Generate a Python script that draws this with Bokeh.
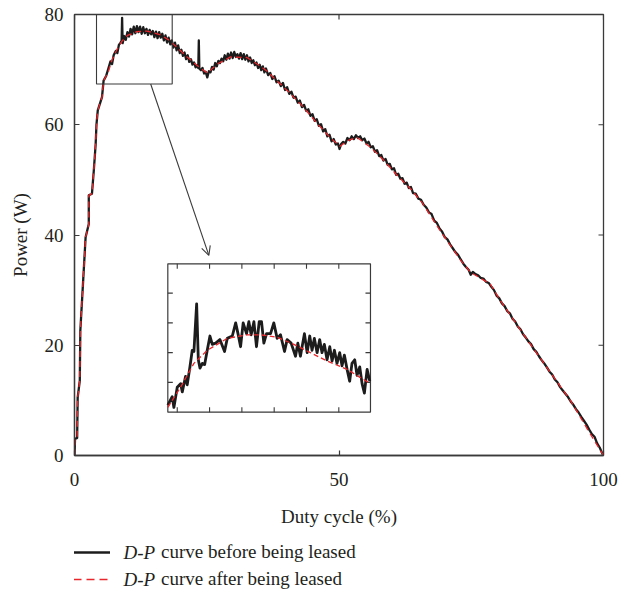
from bokeh.plotting import figure
from bokeh.layouts import column
from bokeh.models import (Range1d, FixedTicker, BoxAnnotation, Arrow,
                          OpenHead, Legend, LegendItem, Label)
from bokeh.embed import file_html
from bokeh.resources import INLINE

# ---------------- data ----------------
rise_duty = [0.0, 0.1, 0.5, 0.6, 1.0, 1.1, 1.6, 2.1, 2.7, 2.7, 3.3, 3.65, 4.0, 4.15, 4.4, 5.2, 5.5, 6.0]
rise_power = [0.0, 3.0, 3.2, 10.5, 13.6, 22.6, 31.1, 39.6, 42.0, 47.2, 47.5, 51.7, 56.5, 60.0, 62.6, 65.0, 68.0, 68.9]

after_duty = [6.2, 7.1, 8.1, 9.0, 10.0, 11.8, 13.7, 16.3, 18.1, 19.4, 21.3, 23.5, 25.1, 27.0, 29.5,
              32.6, 35.2, 36.4, 40.2, 42.7, 45.9, 48.4, 50.2, 51.6, 53.4, 56.0, 58.5, 61.0, 63.5,
              65.7, 68.9, 73.0, 74.9, 75.8, 78.6, 80.5, 83.7, 87.5, 90.6, 93.8, 97.5, 100.0]
after_power = [69.0, 71.8, 73.8, 75.2, 76.2, 76.9, 77.0, 76.3, 75.2, 74.0, 72.3, 70.5, 69.4, 71.0, 72.3,
               72.2, 70.6, 69.7, 66.2, 63.8, 60.2, 57.6, 56.1, 57.1, 57.7, 55.9, 53.5, 50.8, 48.4,
               45.9, 41.1, 35.4, 33.2, 32.7, 31.1, 28.1, 23.6, 18.4, 14.2, 9.9, 3.9, 0.0]

before_duty = [6.4, 6.8, 7.1, 7.4, 7.8, 8.1, 8.4, 8.7, 8.9, 9.0, 9.1, 9.4, 9.7, 10.0, 10.3, 10.6, 10.9,
               11.2, 11.5, 11.8, 12.1, 12.4, 12.7, 13.0, 13.3, 13.6, 13.9, 14.2, 14.5, 14.8, 15.1,
               15.4, 15.7, 16.0, 16.3, 16.6, 16.9, 17.2, 17.5, 17.8, 18.1, 18.4, 18.7, 19.0, 19.3,
               19.6, 19.9, 20.2, 20.5, 20.8, 21.1, 21.4, 21.7, 22.0, 22.3, 22.6, 22.9, 23.2, 23.4,
               23.5, 23.6, 23.9, 24.2, 24.5, 24.8, 25.1, 25.4, 25.7, 26.0, 26.3, 26.6, 26.9, 27.2,
               27.5, 27.8, 28.1, 28.4, 28.7, 29.0, 29.3, 29.6, 29.9, 30.2, 30.5, 30.8, 31.1, 31.4,
               31.7, 32.0, 32.3, 32.6, 32.9, 33.2, 33.5, 33.8, 34.1, 34.4, 34.7, 35.0, 35.3, 35.6,
               35.9, 36.2, 36.6, 37.0, 37.4, 37.8, 38.2, 38.6, 39.0, 39.4, 39.8, 40.2, 40.6, 41.0,
               41.4, 41.8, 42.2, 42.6, 43.0, 43.4, 43.8, 44.2, 44.6, 45.0, 45.4, 45.8, 46.2, 46.6,
               47.0, 47.4, 47.8, 48.2, 48.6, 49.0, 49.4, 49.8, 50.1, 50.4, 50.8, 51.2, 51.6, 52.0,
               52.4, 52.8, 53.2, 53.6, 54.0, 54.4, 54.8, 55.2, 55.6, 56.0, 56.4, 56.8, 57.2, 57.6,
               58.0, 58.4, 58.8, 59.2, 59.6, 60.0, 60.4, 60.8, 61.2, 61.6, 62.0, 62.4, 62.8, 63.2,
               63.6, 64.0, 64.5, 65.0, 65.5, 66.0, 66.5, 67.0, 67.5, 68.0, 68.5, 69.0, 69.5, 70.0,
               70.5, 71.0, 71.5, 72.0, 72.5, 73.0, 73.5, 74.0, 74.5, 74.9, 75.3, 75.8, 76.3, 76.8,
               77.3, 77.8, 78.3, 78.8, 79.3, 79.8, 80.3, 80.8, 81.3, 81.8, 82.3, 82.8, 83.3, 83.8,
               84.3, 84.8, 85.3, 85.8, 86.3, 86.8, 87.3, 87.8, 88.3, 88.8, 89.3, 89.8, 90.3, 90.8,
               91.3, 91.8, 92.3, 92.8, 93.3, 93.8, 94.3, 94.8, 95.3, 95.8, 96.3, 96.8, 97.3, 97.8,
               98.3, 98.8, 99.3, 99.8, 100.0]
before_power = [70.2, 71.5, 71.0, 72.6, 73.4, 73.0, 74.5, 74.9, 75.2, 79.4, 74.8, 76.1, 75.4, 76.8, 76.0,
                77.4, 76.4, 77.8, 76.6, 77.9, 76.8, 77.8, 76.5, 77.7, 76.6, 77.4, 76.3, 77.2, 76.4,
                77.0, 75.9, 76.9, 75.7, 76.8, 75.8, 76.5, 75.3, 76.2, 74.9, 75.8, 74.6, 75.3, 74.0,
                74.9, 73.5, 74.4, 73.0, 73.6, 72.5, 73.1, 71.9, 72.6, 71.4, 71.9, 70.9, 71.3, 70.4,
                70.8, 70.3, 75.3, 70.2, 69.9, 70.3, 69.3, 69.6, 68.6, 69.7, 69.5, 70.5, 70.0, 71.2,
                70.6, 71.6, 71.2, 72.0, 71.5, 72.6, 71.8, 72.9, 72.0, 73.1, 72.1, 73.2, 72.3, 72.8,
                72.0, 73.0, 71.9, 72.8, 71.8, 72.6, 71.5, 72.2, 71.2, 71.7, 70.8, 71.3, 70.3, 70.9,
                69.9, 70.6, 69.5, 70.2, 69.0, 69.4, 68.3, 68.8, 67.7, 68.0, 67.0, 67.6, 66.3, 66.8,
                65.6, 66.0, 64.9, 65.1, 64.0, 64.4, 63.2, 63.6, 62.5, 62.8, 61.6, 61.9, 60.7, 61.0,
                59.8, 60.1, 58.8, 59.2, 57.9, 58.2, 57.0, 57.4, 56.4, 56.6, 55.6, 56.5, 56.9, 56.6,
                57.6, 57.2, 57.9, 57.4, 58.1, 57.6, 57.9, 57.2, 57.5, 56.6, 56.9, 55.9, 56.1, 55.1,
                55.4, 54.3, 54.5, 53.5, 53.8, 52.7, 52.9, 51.9, 52.1, 50.9, 51.1, 50.2, 50.3, 49.3,
                49.5, 48.5, 48.7, 47.6, 47.5, 46.6, 46.4, 45.5, 45.0, 44.1, 43.8, 42.6, 42.2, 41.2,
                40.6, 39.6, 39.2, 38.3, 37.6, 36.9, 36.4, 35.6, 34.8, 34.2, 33.7, 32.8, 33.3, 32.9,
                32.7, 32.2, 32.1, 31.5, 31.3, 30.6, 30.0, 29.0, 28.5, 27.6, 27.1, 26.2, 25.8, 24.8,
                24.3, 23.4, 22.9, 22.0, 21.4, 20.7, 20.2, 19.3, 18.8, 18.0, 17.3, 16.7, 16.0, 15.2,
                14.7, 13.8, 13.3, 12.4, 11.8, 11.2, 10.6, 9.8, 9.2, 8.4, 7.8, 7.0, 6.3, 5.6, 4.7,
                3.9, 3.4, 2.2, 1.4, 0.3, 0.0]

inset_before_duty = [6.77, 7.11, 7.24, 7.50, 7.76, 7.89, 8.14, 8.27, 8.48, 8.66, 8.79, 9.00, 9.13, 9.26,
                     9.44, 9.62, 9.82, 10.03, 10.21, 10.47, 10.80, 11.16, 11.37, 11.76, 12.02, 12.20,
                     12.40, 12.60, 12.86, 13.04, 13.22, 13.43, 13.63, 13.84, 14.02, 14.20, 14.41,
                     14.72, 14.97, 15.23, 15.49, 15.80, 16.00, 16.31, 16.65, 16.83, 17.03, 17.34,
                     17.55, 17.75, 17.93, 18.11, 18.32, 18.52, 18.70, 18.88, 19.09, 19.30, 19.48,
                     19.66, 19.86, 20.07, 20.25, 20.43, 20.64, 20.84, 21.02, 21.23, 21.41, 21.62,
                     21.80, 21.98, 22.19, 22.40]
inset_before_power = [70.6, 71.3, 70.4, 72.1, 72.4, 71.7, 73.0, 72.3, 73.8, 75.2, 75.1, 79.1, 74.4, 73.7,
                      74.1, 74.0, 75.2, 76.4, 75.7, 75.8, 76.1, 75.1, 76.2, 76.4, 77.5, 76.6, 75.5,
                      77.5, 76.6, 77.6, 76.5, 77.6, 75.5, 77.6, 77.6, 75.8, 76.6, 76.6, 77.5, 76.2,
                      76.5, 75.1, 76.1, 75.8, 74.7, 75.8, 74.7, 76.6, 75.0, 76.4, 75.2, 76.2, 75.0,
                      76.1, 75.0, 75.7, 74.4, 75.5, 74.3, 75.2, 74.1, 75.0, 73.9, 74.8, 73.6, 72.6,
                      74.1, 74.4, 73.1, 73.8, 72.4, 71.6, 73.6, 72.6]
inset_after_duty = [6.77, 7.76, 8.79, 9.82, 11.37, 12.90, 13.94, 15.23, 16.52, 17.80, 19.09, 20.64, 21.67, 22.45]
inset_after_power = [70.4, 72.1, 74.1, 75.2, 76.2, 76.5, 76.5, 76.3, 75.7, 75.0, 74.3, 73.6, 72.9, 72.4]

x_ticks = [0, 50, 100]
y_ticks = [0, 20, 40, 60, 80]
inset_x_ticks = [7.5, 10, 12.5, 15, 17.5, 20]
inset_y_ticks = [72.5, 75, 77.5, 80]

legend_labels = ["curve before being leased", "curve after being leased"]
legend_prefix = "D-P"

# zoomed window in main coords, inset view range, inset placement (main coords)
zoom_left, zoom_right, zoom_bottom, zoom_top = 4.16, 18.47, 67.4, 80.0
inset_x0, inset_x1, inset_y0, inset_y1 = 6.77, 22.45, 70.0, 82.47
box_x0, box_x1, box_y0, box_y1 = 17.64, 55.95, 7.86, 34.78
arrow_start = (14.4, 67.4)
arrow_end = (25.4, 36.3)

# ---------------- main figure ----------------
X0, X1, Y0, Y1 = 0, 100, 0, 80
W, H, HT = 635, 535, 592
BL, BR, BT, BB = 74, 32, 14, 80
FW, FH = W - BL - BR, H - BT - BB
FONT = "Liberation Serif"
TXT = "#231f20"
AX = "#3a3a3a"
BLACK = "#1c1c1c"
RED = "#e8262b"

p = figure(width=W, height=H, x_range=Range1d(X0, X1), y_range=Range1d(Y0, Y1),
           output_backend="svg", toolbar_location=None,
           min_border_left=BL, min_border_right=BR, min_border_top=BT, min_border_bottom=BB,
           x_axis_label="Duty cycle (%)", y_axis_label="Power (W)")
p.grid.visible = False
p.outline_line_color = AX
p.outline_line_width = 1.3
p.background_fill_color = "white"
p.border_fill_color = "white"

p.xaxis.ticker = FixedTicker(ticks=x_ticks)
p.yaxis.ticker = FixedTicker(ticks=y_ticks)

for ax in p.axis:
    ax.major_tick_in = 5
    ax.major_tick_out = 0
    ax.minor_tick_in = 0
    ax.minor_tick_out = 0
    ax.axis_line_color = AX
    ax.axis_line_width = 1.3
    ax.major_tick_line_color = AX
    ax.major_tick_line_width = 1.2
    ax.major_label_text_font = FONT
    ax.major_label_text_font_size = "19px"
    ax.major_label_text_color = TXT
    ax.axis_label_text_font = FONT
    ax.axis_label_text_font_size = "19px"
    ax.axis_label_text_font_style = "normal"
    ax.axis_label_text_color = TXT

p.xaxis.major_label_standoff = 17
p.xaxis.axis_label_standoff = 17
p.yaxis.major_label_standoff = 11
p.yaxis.axis_label_standoff = 11

# inward ticks on the top and right edges of the frame
tick_dx = 5 * (X1 - X0) / FW
tick_dy = 5 * (Y1 - Y0) / FH
p.segment(x0=x_ticks, x1=x_ticks, y0=[Y1] * len(x_ticks), y1=[Y1 - tick_dy] * len(x_ticks),
          line_color=AX, line_width=1.2)
p.segment(x0=[X1] * len(y_ticks), x1=[X1 - tick_dx] * len(y_ticks), y0=y_ticks, y1=y_ticks,
          line_color=AX, line_width=1.2)

# main curves
r_black = p.line(rise_duty + before_duty, rise_power + before_power,
                 line_color=BLACK, line_width=2.3, line_join="round")
r_red = p.line(rise_duty + after_duty, rise_power + after_power,
               line_color=RED, line_width=1.3, line_dash="6 4")

# zoom window marker and arrow
p.add_layout(BoxAnnotation(left=zoom_left, right=zoom_right, bottom=zoom_bottom, top=zoom_top,
                           fill_alpha=0, line_color=AX, line_alpha=1.0, line_width=1.1))
p.add_layout(Arrow(end=OpenHead(size=9, line_color=AX, line_width=1.1),
                   x_start=arrow_start[0], y_start=arrow_start[1],
                   x_end=arrow_end[0], y_end=arrow_end[1],
                   line_color=AX, line_width=1.1))

# inset ranges: inset view mapped onto the inset box
sx = (inset_x1 - inset_x0) / (box_x1 - box_x0)
sy = (inset_y1 - inset_y0) / (box_y1 - box_y0)
p.extra_x_ranges = {"ix": Range1d(inset_x0 + (X0 - box_x0) * sx, inset_x0 + (X1 - box_x0) * sx)}
p.extra_y_ranges = {"iy": Range1d(inset_y0 + (Y0 - box_y0) * sy, inset_y0 + (Y1 - box_y0) * sy)}

p.add_layout(BoxAnnotation(left=box_x0, right=box_x1, bottom=box_y0, top=box_y1,
                           fill_color="white", fill_alpha=1.0, line_color=AX, line_alpha=1.0,
                           line_width=1.2, level="underlay"))

tlx = tick_dx * sx
tly = tick_dy * sy
n = len(inset_x_ticks)
m = len(inset_y_ticks)
p.segment(x0=inset_x_ticks * 2, x1=inset_x_ticks * 2,
          y0=[inset_y0] * n + [inset_y1] * n,
          y1=[inset_y0 + tly] * n + [inset_y1 - tly] * n,
          x_range_name="ix", y_range_name="iy", line_color=AX, line_width=1.1)
p.segment(x0=[inset_x0] * m + [inset_x1] * m,
          x1=[inset_x0 + tlx] * m + [inset_x1 - tlx] * m,
          y0=inset_y_ticks * 2, y1=inset_y_ticks * 2,
          x_range_name="ix", y_range_name="iy", line_color=AX, line_width=1.1)

p.line(inset_before_duty, inset_before_power, x_range_name="ix", y_range_name="iy",
       line_color=BLACK, line_width=2.8, line_join="round")
p.line(inset_after_duty, inset_after_power, x_range_name="ix", y_range_name="iy",
       line_color=RED, line_width=1.3, line_dash="5 3")

# ---------------- legend strip below (data units = page pixels) ----------------
LH = HT - H
lg = figure(width=W, height=LH, x_range=Range1d(BL, W - BR), y_range=Range1d(HT, H),
            output_backend="svg", toolbar_location=None,
            x_axis_type=None, y_axis_type=None,
            min_border_left=BL, min_border_right=BR, min_border_top=0, min_border_bottom=0)
lg.grid.visible = False
lg.outline_line_color = None
lg.border_fill_color = "white"
lg_black = lg.line(x=[float("nan")], y=[float("nan")], line_color=BLACK, line_width=2.3)
lg_red = lg.line(x=[float("nan")], y=[float("nan")], line_color=RED, line_width=1.3, line_dash="8 5")

legend = Legend(items=[LegendItem(label=legend_labels[0], renderers=[lg_black]),
                       LegendItem(label=legend_labels[1], renderers=[lg_red])],
                location=(-1, 1), orientation="vertical",
                glyph_width=37, glyph_height=24, label_height=24, label_standoff=51,
                spacing=3, padding=0, margin=0,
                border_line_alpha=0, background_fill_alpha=0,
                label_text_font=FONT, label_text_font_size="19px", label_text_color=TXT)
lg.add_layout(legend, "center")
for yy in (552, 579):
    lg.add_layout(Label(x=123, y=yy, text=legend_prefix,
                        text_font=FONT, text_font_style="italic", text_font_size="19px",
                        text_color=TXT, text_baseline="middle"))

layout = column(p, lg, spacing=0)
open("out.html", "w").write(file_html(layout, INLINE))
